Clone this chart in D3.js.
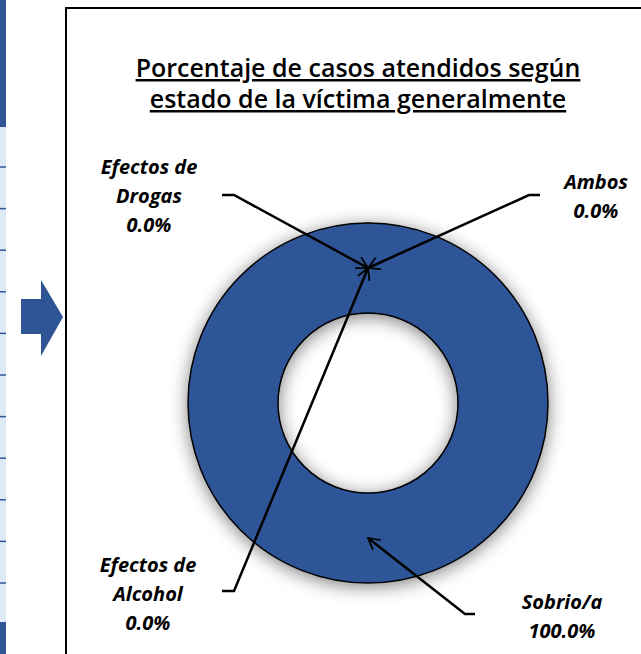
<!DOCTYPE html>
<html>
<head>
<meta charset="utf-8">
<script src="https://cdn.jsdelivr.net/npm/d3@7/dist/d3.min.js"></script>
<style>
	body { margin: 0; background: #fff; }
	svg { display: block; }
</style>
</head>
<body>
<div id="chart"></div>
<script>
// chart data
var categories = ["Efectos de Drogas", "Efectos de Alcohol", "Ambos", "Sobrio/a"];
var values = [0, 0, 0, 100];
var labelLines = [["Efectos de", "Drogas"], ["Efectos de", "Alcohol"], ["Ambos"], ["Sobrio/a"]];
var titleLines = ["Porcentaje de casos atendidos según", "estado de la víctima generalmente"];

(function(){
	'use strict';

	var width = 641,
		height = 654,
		cx = 368,
		cy = 403,
		outerR = 180,
		innerR = 90,
		blue = "#2F5597",
		lightBlue = "#DDEBF7";

	// where each label block sits (x centre, first baseline) and where its leader starts
	var labelPos = [
		{x: 149, y: 174, lx: 222, ly: 195, bx: 234},
		{x: 148, y: 572, lx: 222, ly: 591, bx: 234},
		{x: 596, y: 189, lx: 540, ly: 195, bx: 529},
		{x: 562, y: 609, lx: 475, ly: 614, bx: 465}
	];

	var svg = d3.select("#chart")
		.append("svg")
		.attr("width", width)
		.attr("height", height);

	var defs = svg.append("defs");
	var shadow = defs.append("filter")
		.attr("id", "shadow")
		.attr("x", "-25%").attr("y", "-25%")
		.attr("width", "150%").attr("height", "150%");
	shadow.append("feGaussianBlur").attr("in", "SourceAlpha").attr("stdDeviation", 9).attr("result", "b");
	shadow.append("feOffset").attr("in", "b").attr("dx", 0).attr("dy", 3).attr("result", "o");
	shadow.append("feComponentTransfer").attr("in", "o").attr("result", "s")
		.append("feFuncA").attr("type", "linear").attr("slope", 0.5);
	var merge = shadow.append("feMerge");
	merge.append("feMergeNode").attr("in", "s");
	merge.append("feMergeNode").attr("in", "SourceGraphic");

	defs.append("marker")
		.attr("id", "head")
		.attr("viewBox", "0 0 12 12")
		.attr("refX", 10).attr("refY", 6)
		.attr("markerWidth", 6).attr("markerHeight", 6)
		.attr("markerUnits", "strokeWidth")
		.attr("orient", "auto")
		.append("path")
		.attr("d", "M1,1 L10,6 L1,11")
		.attr("fill", "none")
		.attr("stroke", "#000")
		.attr("stroke-width", 1.4);

	// piece of the neighbouring table on the left
	var strip = svg.append("g");
	strip.append("rect").attr("x", 0).attr("y", 0).attr("width", 6).attr("height", height).attr("fill", lightBlue);
	strip.append("rect").attr("x", 0).attr("y", 0).attr("width", 6).attr("height", 127).attr("fill", blue);
	strip.append("rect").attr("x", 0).attr("y", 622).attr("width", 6).attr("height", 40).attr("fill", blue);
	strip.selectAll("line")
		.data(d3.range(11))
		.enter().append("line")
		.attr("x1", 0).attr("x2", 6)
		.attr("y1", function(d){ return 167 + d * 41.6; })
		.attr("y2", function(d){ return 167 + d * 41.6; })
		.attr("stroke", blue)
		.attr("stroke-width", 1.5);

	// block arrow pointing at the chart
	svg.append("path")
		.attr("d", "M21,299 L41,299 L41,280 L63,317 L41,356 L41,334 L21,334 Z")
		.attr("fill", blue);

	// chart frame
	svg.append("rect")
		.attr("x", 66).attr("y", 8)
		.attr("width", 700).attr("height", 700)
		.attr("fill", "#fff")
		.attr("stroke", "#000")
		.attr("stroke-width", 2);

	// title
	svg.append("text")
		.attr("x", 358)
		.attr("text-anchor", "middle")
		.style("font-family", "'Open Sans', Lato, sans-serif")
		.style("font-weight", "600")
		.style("font-size", "25px")
		.style("text-decoration", "underline")
		.attr("fill", "#000")
		.selectAll("tspan")
		.data(titleLines)
		.enter().append("tspan")
		.attr("x", 358)
		.attr("y", function(d, i){ return 77 + i * 31; })
		.text(String);

	var pie = d3.pie().sort(null).value(function(d){ return d; });
	var arc = d3.arc().innerRadius(innerR).outerRadius(outerR);
	var arcs = pie(values);

	var g = svg.append("g").attr("transform", "translate(" + cx + "," + cy + ")");

	g.append("g")
		.attr("filter", "url(#shadow)")
		.selectAll("path")
		.data(arcs)
		.enter().append("path")
		.attr("d", arc)
		.attr("fill", blue)
		.attr("stroke", "#000")
		.attr("stroke-width", 1.5)
		.attr("stroke-linejoin", "round");

	// leader lines with open arrowheads
	svg.append("g")
		.selectAll("polyline")
		.data(arcs)
		.enter().append("polyline")
		.attr("points", function(d, i){
			var c = arc.centroid(d), p = labelPos[i];
			return [[p.lx, p.ly], [p.bx, p.ly], [cx + c[0], cy + c[1]]].join(" ");
		})
		.attr("fill", "none")
		.attr("stroke", "#000")
		.attr("stroke-width", 2.5)
		.attr("marker-end", "url(#head)");

	// data labels
	var fmt = d3.format(".1f");
	var total = d3.sum(values);
	var lab = svg.append("g")
		.selectAll("text")
		.data(arcs)
		.enter().append("text")
		.attr("text-anchor", "middle")
		.style("font-family", "'Open Sans', Lato, sans-serif")
		.style("font-weight", "bold")
		.style("font-style", "italic")
		.style("font-size", "20px")
		.attr("fill", "#000");

	lab.selectAll("tspan")
		.data(function(d, i){
			return labelLines[i].concat([fmt(d.value / total * 100) + "%"]).map(function(t){ return {t: t, i: i}; });
		})
		.enter().append("tspan")
		.attr("x", function(d){ return labelPos[d.i].x; })
		.attr("y", function(d, j){ return labelPos[d.i].y + j * 29; })
		.text(function(d){ return d.t; });
})();
</script>
</body>
</html>
